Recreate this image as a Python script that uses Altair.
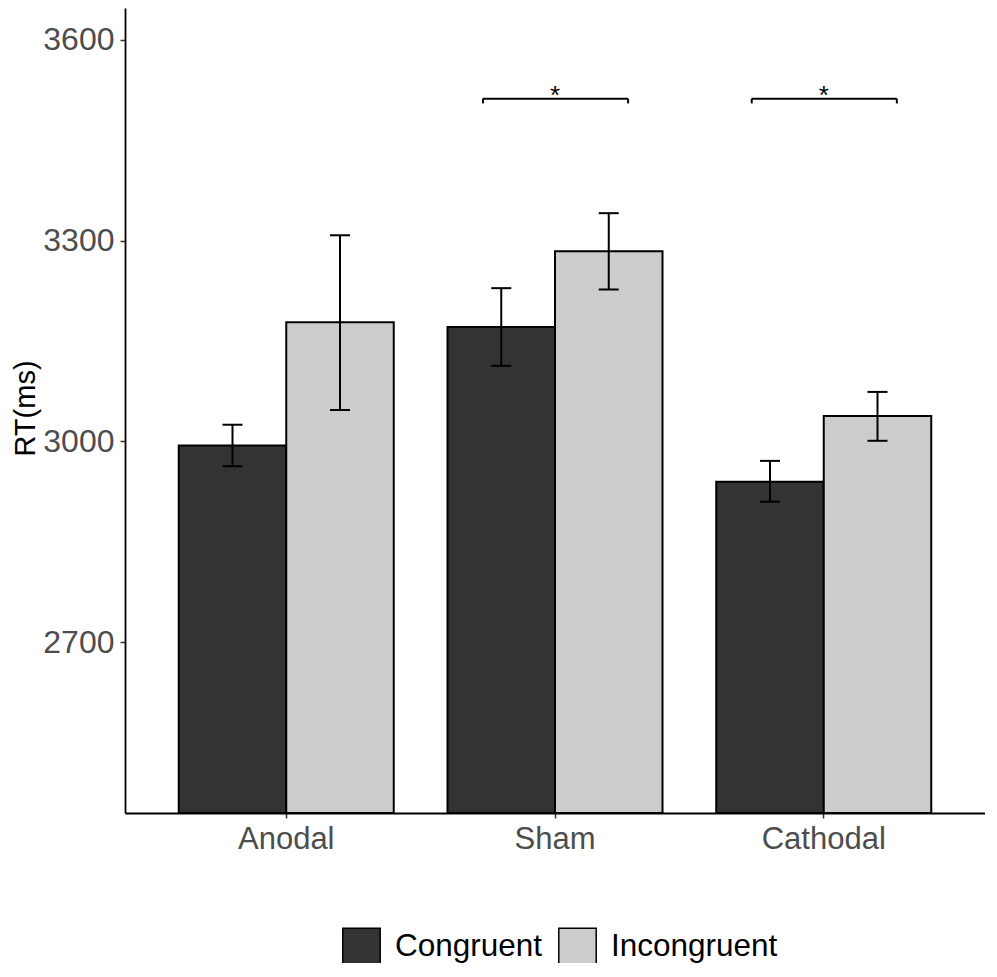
import altair as alt
import pandas as pd

# ---- data ----
conditions = ["Anodal", "Sham", "Cathodal"]
groups = ["Congruent", "Incongruent"]
mean_congruent = [2994, 3171, 2940]
mean_incongruent = [3178, 3284, 3038]
low_congruent = [2963, 3113, 2910]
high_congruent = [3025, 3229, 2971]
low_incongruent = [3047, 3227, 3001]
high_incongruent = [3308, 3341, 3074]
sig_conditions = ["Sham", "Cathodal"]
sig_y = [3512, 3512]
sig_tip = [3505, 3505]
sig_labels = ["*", "*"]
y_ticks = [2700, 3000, 3300, 3600]
y_limits = [2445, 3647.5]
fill_colors = ["#333333", "#CCCCCC"]

rows = []
for i, c in enumerate(conditions):
    rows.append(dict(condition=c, group=groups[0], mean=mean_congruent[i],
                     low=low_congruent[i], high=high_congruent[i]))
    rows.append(dict(condition=c, group=groups[1], mean=mean_incongruent[i],
                     low=low_incongruent[i], high=high_incongruent[i]))
df = pd.DataFrame(rows)
sig = pd.DataFrame(dict(condition=sig_conditions, y=sig_y, tip=sig_tip, label=sig_labels))

FONT = "Liberation Sans"
YT = "RT(ms)"
yscale = alt.Scale(domain=y_limits, zero=False, nice=False)
xscale = alt.Scale(domain=conditions, paddingInner=0.2, paddingOuter=0.2)
offscale = alt.Scale(domain=groups, paddingInner=0, paddingOuter=0)

x_axis = alt.Axis(title=None, labelAngle=0, labelFont=FONT, labelFontSize=31,
                  labelColor="#4D4D4D", labelPadding=6, tickSize=5, tickWidth=1.5,
                  tickColor="#333333", domainColor="black", domainWidth=1.8,
                  grid=False)
y_axis = alt.Axis(title=YT, values=y_ticks, format="d", labelFont=FONT, labelFontSize=32,
                  labelColor="#4D4D4D", labelPadding=6, tickSize=5, tickWidth=1.5,
                  tickColor="#333333", domainColor="black", domainWidth=1.8,
                  grid=False, titleFont=FONT, titleFontSize=29, titleColor="black",
                  titleFontWeight="normal", titleAngle=270, titleBaseline="bottom",
                  titleX=-85, titleY=400)

base = alt.Chart(df)

bars = base.mark_bar(stroke="black", strokeWidth=2).encode(
    x=alt.X("condition:N", scale=xscale, axis=x_axis),
    xOffset=alt.XOffset("group:N", scale=offscale),
    y=alt.Y("mean:Q", scale=yscale, axis=y_axis),
    y2=alt.datum(y_limits[0]),
    color=alt.Color("group:N", scale=alt.Scale(domain=groups, range=fill_colors),
                    legend=alt.Legend(orient="none", legendX=217, legendY=919,
                                      direction="horizontal", title=None,
                                      symbolType="square", symbolSize=1400,
                                      symbolStrokeColor="black", symbolStrokeWidth=1.5,
                                      symbolOpacity=1, labelFont=FONT, labelFontSize=31.5,
                                      labelColor="black", labelOffset=14, labelLimit=0,
                                      columnPadding=12, padding=0)),
)

err = base.mark_rule(color="black", strokeWidth=2).encode(
    x=alt.X("condition:N", scale=xscale, title=None),
    xOffset=alt.XOffset("group:N", scale=offscale),
    y=alt.Y("low:Q", scale=yscale, title=YT),
    y2="high:Q",
)

cap_hi = base.mark_tick(color="black", size=20, thickness=2, opacity=1).encode(
    x=alt.X("condition:N", scale=xscale, title=None),
    xOffset=alt.XOffset("group:N", scale=offscale),
    y=alt.Y("high:Q", scale=yscale, title=YT),
)
cap_lo = base.mark_tick(color="black", size=20, thickness=2, opacity=1).encode(
    x=alt.X("condition:N", scale=xscale, title=None),
    xOffset=alt.XOffset("group:N", scale=offscale),
    y=alt.Y("low:Q", scale=yscale, title=YT),
)

sbase = alt.Chart(sig)
bracket = sbase.mark_rule(color="black", strokeWidth=2).encode(
    x=alt.X("condition:N", scale=xscale, title=None, bandPosition=0.165),
    x2=alt.X2("condition", bandPosition=0.84),
    y=alt.Y("y:Q", scale=yscale, title=YT),
)
tip_l = sbase.mark_rule(color="black", strokeWidth=2).encode(
    x=alt.X("condition:N", scale=xscale, title=None, bandPosition=0.165),
    y=alt.Y("y:Q", scale=yscale, title=YT),
    y2="tip:Q",
)
tip_r = sbase.mark_rule(color="black", strokeWidth=2).encode(
    x=alt.X("condition:N", scale=xscale, title=None, bandPosition=0.84),
    y=alt.Y("y:Q", scale=yscale, title=YT),
    y2="tip:Q",
)
stars = sbase.mark_text(font=FONT, fontSize=26, color="black", baseline="alphabetic",
                        align="center", dy=5).encode(
    x=alt.X("condition:N", scale=xscale, title=None),
    y=alt.Y("y:Q", scale=yscale, title=YT),
    text="label:N",
)

chart = alt.layer(bars, err, cap_hi, cap_lo, bracket, tip_l, tip_r, stars).properties(
    width=860, height=805,
    autosize=alt.AutoSizeParams(type="none"),
    padding={"left": 117, "top": 0, "right": 0, "bottom": 150},
    background="white",
).configure_view(stroke=None)

chart.save("out.html", embed_options={"renderer": "svg", "actions": False})
